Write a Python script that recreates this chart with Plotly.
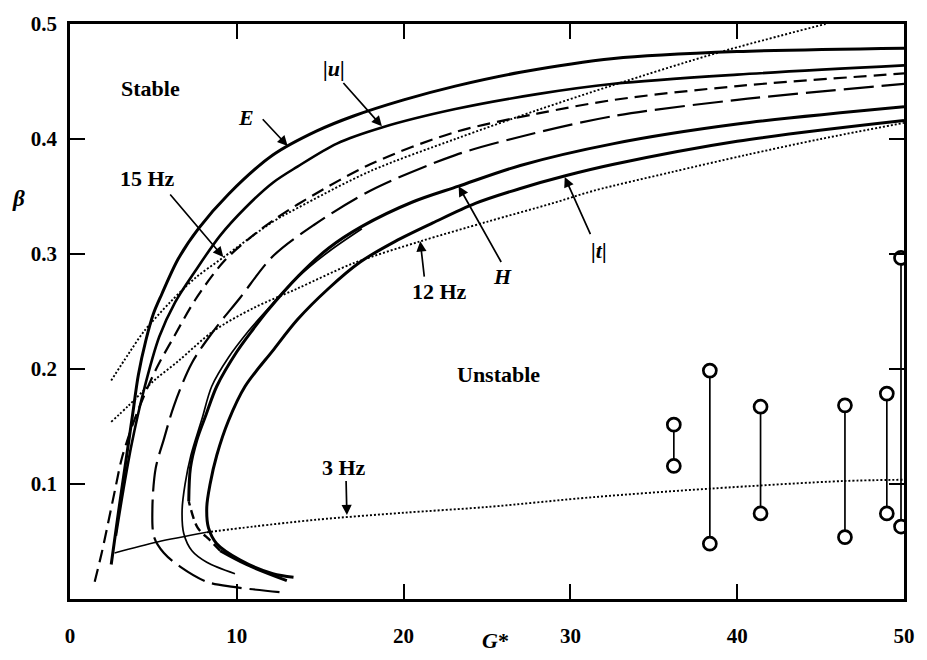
import plotly.graph_objects as go

# ---- stability boundaries, beta vs G* ----
E_G = [2.47, 2.9, 3.3, 3.75, 4.1, 4.55, 5.0, 5.5, 6.5, 7.7, 9.5, 12.16, 14.8, 17, 20, 23.1, 27, 32.6, 40, 50]
E_B = [0.030, 0.075, 0.115, 0.160, 0.195, 0.225, 0.248, 0.265, 0.296, 0.322, 0.352, 0.386, 0.407, 0.420, 0.434, 0.446, 0.458, 0.470, 0.476, 0.479]

U_G = [2.75, 3.2, 3.7, 4.4, 5.35, 6.3, 7.5, 9, 10.5, 12.16, 13.64, 16, 18.7, 23.1, 28, 32.6, 40, 50]
U_B = [0.055, 0.095, 0.135, 0.180, 0.228, 0.258, 0.285, 0.316, 0.340, 0.362, 0.376, 0.396, 0.410, 0.426, 0.439, 0.448, 0.456, 0.464]

D_G = [1.48, 1.9, 2.27, 2.7, 3.1, 3.6, 4.05, 4.84, 5.34, 6.23, 7.5, 9.19, 10.7, 12.16, 13.64, 18, 23.1, 28, 32.6, 40, 50]
D_B = [0.015, 0.040, 0.065, 0.095, 0.122, 0.145, 0.163, 0.190, 0.205, 0.228, 0.260, 0.293, 0.313, 0.329, 0.343, 0.378, 0.406, 0.422, 0.434, 0.446, 0.457]

C_G = [12.56, 9.79, 8.2, 6.62, 5.63, 5.04, 4.94, 5.14, 5.63, 6.23, 7.3, 8.6, 10.2, 12.16, 14.6, 18, 23.1, 27, 32.6, 40, 50]
C_B = [0.006, 0.0105, 0.015, 0.028, 0.040, 0.054, 0.079, 0.114, 0.139, 0.168, 0.205, 0.233, 0.262, 0.298, 0.325, 0.355, 0.386, 0.402, 0.420, 0.434, 0.448]

T_G = [9.89, 8.2, 7.31, 6.82, 6.72, 6.9, 7.25, 7.9, 8.5, 9.5, 10.7, 11.6, 13.6, 15.5, 17.5]
T_B = [0.022, 0.032, 0.042, 0.057, 0.077, 0.100, 0.125, 0.156, 0.185, 0.210, 0.233, 0.248, 0.279, 0.302, 0.322]

H_G = [13.0, 10.58, 9.0, 8.4, 7.65, 7.12, 7.22, 7.6, 8.15, 8.8, 10.0, 11.0, 11.8, 13.7, 15.5, 17.5, 20.5, 23.3, 27, 32.6, 40, 50]
H_B = [0.016, 0.030, 0.042, 0.051, 0.062, 0.085, 0.114, 0.138, 0.160, 0.185, 0.215, 0.235, 0.250, 0.281, 0.305, 0.324, 0.345, 0.359, 0.377, 0.396, 0.413, 0.428]

P_G = [13.4, 12.16, 10.18, 8.8, 8.3, 8.2, 8.4, 8.8, 9.5, 10.5, 12.16, 13.64, 15.5, 17.4, 19.5, 21.75, 24.3, 27, 29.7, 32.6, 40, 50]
P_B = [0.019, 0.022, 0.034, 0.048, 0.062, 0.080, 0.100, 0.125, 0.155, 0.185, 0.216, 0.243, 0.270, 0.293, 0.311, 0.327, 0.344, 0.357, 0.368, 0.378, 0.398, 0.416]

# ---- constant-frequency lines ----
F15_G = [2.47, 3.5, 4.45, 6, 7.5, 9.19, 12.16, 13.64, 18, 23.1, 28, 32.6, 38.95, 45.3]
F15_B = [0.190, 0.213, 0.233, 0.258, 0.279, 0.297, 0.328, 0.340, 0.372, 0.400, 0.425, 0.447, 0.4755, 0.500]

F12_G = [2.47, 3.5, 5.04, 6.5, 8.6, 11, 13.64, 17, 21, 25, 28.9, 31.4, 36, 40.5, 45, 50]
F12_B = [0.154, 0.168, 0.190, 0.207, 0.233, 0.253, 0.270, 0.292, 0.311, 0.328, 0.344, 0.355, 0.371, 0.386, 0.400, 0.414]

F3_G = [2.67, 5.24, 8.2, 11, 14.8, 20, 25, 31.4, 38.4, 46.4, 50]
F3_B = [0.040, 0.0496, 0.058, 0.063, 0.069, 0.075, 0.080, 0.0886, 0.096, 0.1026, 0.1037]

# ---- measured ranges ----
R_G = [36.2, 38.36, 41.4, 46.46, 48.97, 49.82]
R_LO = [0.1157, 0.0481, 0.0744, 0.0538, 0.0744, 0.063]
R_HI = [0.1516, 0.1986, 0.1672, 0.1684, 0.1786, 0.2966]

X_TICKS = [0, 10, 20, 30, 40, 50]
Y_TICKS = [0.1, 0.2, 0.3, 0.4, 0.5]

FONT = "Liberation Serif"
fig = go.Figure()


def curve(xs, ys, width, dash="solid"):
    fig.add_trace(go.Scatter(
        x=xs, y=ys, mode="lines", hoverinfo="skip", showlegend=False,
        line=dict(color="black", width=width, dash=dash, shape="spline", smoothing=0.9)))


DOT = "2px,2px"
curve(F15_G, F15_B, 1.9, DOT)
curve(F12_G, F12_B, 1.9, DOT)
curve(F3_G[:3], F3_B[:3], 1.5)
curve(F3_G[2:], F3_B[2:], 1.9, DOT)

curve(E_G, E_B, 3.0)
curve(U_G, U_B, 2.6)
curve(D_G, D_B, 2.2, "13px,7px")
curve(C_G, C_B, 2.2, "30px,8px")
curve(T_G, T_B, 1.7)
curve(H_G[5:], H_B[5:], 3.0)
curve(H_G[2:6], H_B[2:6], 2.4, "9px,5px")
curve(H_G[:3], H_B[:3], 3.0)
curve(P_G, P_B, 3.0)

for g, lo, hi in zip(R_G, R_LO, R_HI):
    fig.add_trace(go.Scatter(
        x=[g, g], y=[lo, hi], mode="lines+markers", hoverinfo="skip", showlegend=False,
        line=dict(color="black", width=1.7),
        marker=dict(symbol="circle", size=13, color="white",
                    line=dict(color="black", width=2.7))))

labels = [
    ("Stable", 4.84, 0.444, False),
    ("Unstable", 25.7, 0.195, False),
    ("E", 10.58, 0.4185, True),
    ("|u|", 15.82, 0.4613, True),
    ("15 Hz", 4.64, 0.3658, False),
    ("12 Hz", 22.14, 0.2675, False),
    ("H", 25.9, 0.2803, True),
    ("|t|", 31.73, 0.3032, True),
    ("3 Hz", 16.43, 0.1145, False),
]
for txt, x, y, ital in labels:
    fig.add_annotation(x=x, y=y, text=f"<i>{txt}</i>" if ital else txt, showarrow=False,
                       font=dict(family=FONT, size=22, color="black", weight="bold"))

arrows = [
    (16.31, 0.450, 18.7, 0.411),
    (11.47, 0.4185, 13.05, 0.394),
    (5.93, 0.353, 9.19, 0.2974),
    (21.25, 0.279, 21.0, 0.311),
    (25.9, 0.2917, 23.3, 0.359),
    (31.24, 0.316, 29.66, 0.367),
    (16.55, 0.104, 16.6, 0.073),
]
for ax, ay, x, y in arrows:
    fig.add_annotation(x=x, y=y, ax=ax, ay=ay, xref="x", yref="y", axref="x", ayref="y",
                       text="", showarrow=True, arrowhead=2, arrowsize=1.2,
                       arrowwidth=1.7, arrowcolor="black", standoff=0)

fig.add_annotation(x=-0.062, y=0.348, xref="paper", yref="y", text="<i>β</i>", showarrow=False,
                   xanchor="center", font=dict(family=FONT, size=23, color="black", weight="bold"))
fig.add_annotation(x=25.5, y=-0.073, xref="x", yref="paper", text="<i>G</i>*", showarrow=False,
                   xanchor="center", yanchor="middle",
                   font=dict(family=FONT, size=22, color="black", weight="bold"))

axis_common = dict(showline=True, linecolor="black", linewidth=2.6, mirror="ticks",
                   ticks="inside", ticklen=15, tickwidth=2, tickcolor="black",
                   showgrid=False, zeroline=False,
                   tickfont=dict(family=FONT, size=21, color="black", weight="bold"))
fig.update_xaxes(range=[0, 50], tickvals=X_TICKS, ticktext=[str(v) for v in X_TICKS],
                 ticklabelstandoff=16, **axis_common)
fig.update_yaxes(range=[0, 0.5], tickvals=Y_TICKS, ticktext=[f"{v:.1f}" for v in Y_TICKS],
                 ticklabelstandoff=6, **axis_common)

fig.update_layout(width=927, height=660, margin=dict(l=70, r=14, t=18, b=57),
                  plot_bgcolor="white", paper_bgcolor="white",
                  font=dict(family=FONT, color="black"))

fig.write_html("out.html")
